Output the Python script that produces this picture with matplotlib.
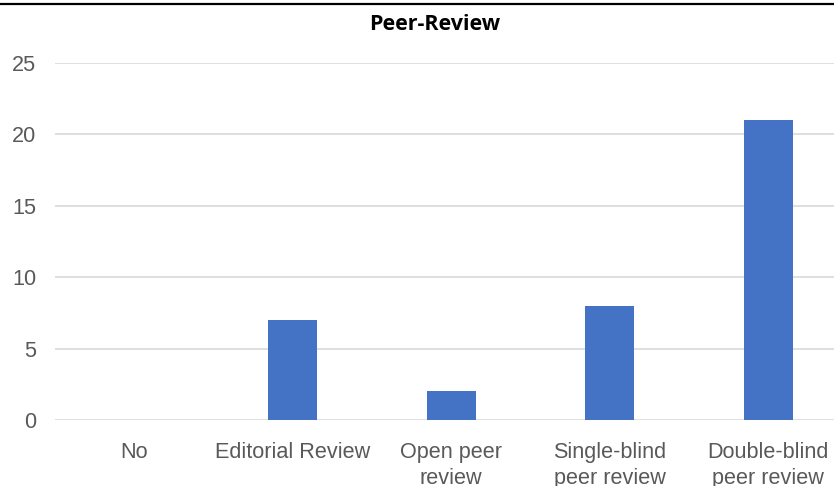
import matplotlib
matplotlib.use("Agg")
import matplotlib.pyplot as plt
from matplotlib.lines import Line2D

categories = ["No", "Editorial Review", "Open peer\nreview", "Single-blind\npeer review", "Double-blind\npeer review"]
values = [0, 7, 2, 8, 21]
yticks = [0, 5, 10, 15, 20, 25]

W, H = 834, 486
fig = plt.figure(figsize=(W/100, H/100), dpi=100)
left, right = 55, 847.5
top, bottom = 63, 420
ax = fig.add_axes([left/W, 1 - bottom/H, (right-left)/W, (bottom-top)/H])
x = range(len(categories))
ax.bar(x, values, width=0.31, color="#4472C4", zorder=3)
ax.set_xlim(-0.5, len(categories)-0.5)
ax.set_ylim(0, 25)
ax.set_yticks(yticks)
ax.set_xticks(list(x))
ax.set_xticklabels(categories, fontsize=15.6, color="#595959", family="Liberation Sans", linespacing=1.32, va="top")
ax.set_yticklabels([str(v) for v in yticks], fontsize=15.6, color="#595959", family="Liberation Sans")
ax.tick_params(axis="both", length=0)
ax.tick_params(axis="x", pad=15.5)
ax.tick_params(axis="y", pad=13.5)
ax.grid(axis="y", color="#d9d9d9", linewidth=1.2, zorder=0)
for s in ax.spines.values():
    s.set_visible(False)
fig.text(435/W, 1 - 24.5/H, "Peer-Review", ha="center", va="center", fontsize=15.5, fontweight="bold", family="Open Sans", color="#000000")
fig.add_artist(Line2D([0, 1], [1 - 4.5/H, 1 - 4.5/H], transform=fig.transFigure, color="#000000", linewidth=1.6))
fig.savefig("out.png", dpi=100)
